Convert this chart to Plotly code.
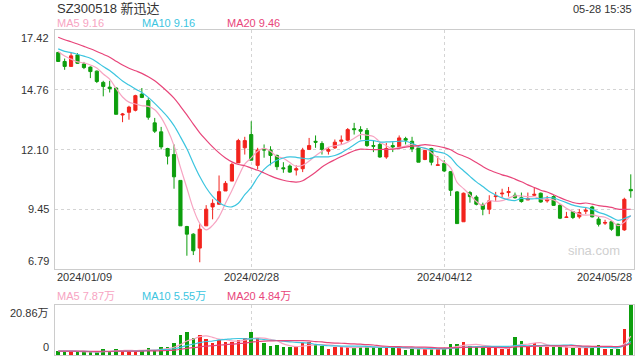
import plotly.graph_objects as go
import pandas as pd

# ---------------- data ----------------
open_ = [16.42, 16.02, 15.80, 16.31, 15.91, 15.77, 15.59, 15.09, 14.88, 14.84,
         13.64, 13.76, 13.85, 14.57, 14.28, 13.29, 12.89, 12.15, 11.88, 10.73,
         8.68, 8.34, 7.72, 8.71, 9.55, 9.67, 10.26, 10.70, 11.51, 12.18,
         12.77, 11.40, 12.13, 12.08, 11.84, 11.29, 11.37, 11.19, 11.25, 12.11,
         12.47, 12.37, 12.03, 12.18, 12.47, 12.52, 13.03, 12.99, 12.95, 12.28,
         12.33, 11.77, 12.28, 12.22, 12.59, 12.47, 12.18, 11.66, 12.15, 11.40,
         11.49, 11.12, 10.22, 8.89, 10.19, 9.99, 9.64, 9.45, 10.01, 10.13,
         10.19, 10.07, 9.96, 9.86, 10.07, 10.16, 9.82, 10.01, 9.62, 9.08,
         9.34, 9.11, 9.36, 9.55, 9.01, 8.83, 8.89, 8.78, 8.53, 10.33]
high = [16.45, 16.15, 16.42, 16.39, 16.00, 15.80, 15.62, 15.16, 15.16, 14.87,
        13.73, 14.05, 14.54, 14.84, 14.39, 13.51, 13.11, 12.18, 12.33, 10.73,
        8.71, 8.38, 8.78, 9.63, 9.89, 10.95, 10.70, 11.51, 12.58, 12.67,
        13.36, 12.18, 12.33, 12.25, 11.88, 11.54, 11.44, 11.40, 12.18, 12.62,
        12.73, 12.47, 12.22, 12.55, 12.73, 13.06, 13.29, 13.14, 13.06, 12.52,
        12.40, 12.40, 12.43, 12.73, 12.67, 12.67, 12.22, 12.10, 12.18, 11.81,
        11.63, 11.15, 10.26, 10.19, 10.26, 10.07, 9.74, 10.07, 10.22, 10.36,
        10.44, 10.19, 10.19, 10.19, 10.41, 10.19, 10.04, 10.07, 9.67, 9.33,
        9.37, 9.45, 9.55, 9.60, 9.11, 8.98, 8.89, 8.81, 9.96, 11.00]
low = [16.00, 15.65, 15.80, 15.91, 15.68, 15.28, 15.06, 14.47, 14.64, 13.67,
       13.32, 13.43, 13.80, 14.39, 13.43, 12.84, 12.11, 11.44, 10.36, 8.71,
       7.38, 7.41, 7.09, 8.71, 9.00, 9.67, 10.26, 10.70, 11.51, 11.88,
       11.63, 11.22, 11.74, 11.40, 11.19, 11.07, 11.07, 10.95, 11.10, 12.08,
       12.18, 11.88, 11.88, 12.13, 12.33, 12.47, 12.77, 12.55, 12.22, 11.99,
       11.74, 11.69, 11.99, 12.18, 12.33, 11.99, 11.54, 11.63, 11.40, 11.40,
       11.10, 10.04, 8.81, 8.89, 9.74, 9.62, 9.18, 9.23, 9.82, 9.97,
       10.01, 9.92, 9.74, 9.86, 10.04, 9.74, 9.74, 9.60, 9.01, 9.08,
       9.01, 9.03, 9.23, 9.08, 8.68, 8.75, 8.49, 8.27, 8.49, 9.96]
close = [16.02, 15.80, 16.27, 15.94, 15.75, 15.57, 15.13, 14.91, 14.81, 13.67,
         13.68, 13.99, 14.50, 14.42, 13.54, 12.92, 12.22, 11.81, 10.89, 8.71,
         8.34, 7.60, 8.56, 9.45, 9.71, 10.23, 10.60, 11.44, 12.50, 12.50,
         11.63, 12.08, 12.08, 11.84, 11.34, 11.25, 11.10, 11.25, 12.08, 12.28,
         12.43, 12.11, 12.11, 12.43, 12.52, 12.99, 12.99, 12.92, 12.28, 12.25,
         11.77, 12.15, 12.22, 12.62, 12.52, 12.13, 11.54, 12.06, 11.54, 11.42,
         11.15, 10.29, 8.81, 10.16, 10.01, 9.67, 9.45, 9.82, 10.04, 10.16,
         10.23, 9.96, 9.79, 9.92, 10.11, 9.77, 9.89, 9.62, 9.05, 9.10,
         9.08, 9.30, 9.40, 9.11, 8.78, 8.86, 8.56, 8.27, 9.89, 10.27]
# volume in 万 shares
volume = [1.7, 1.4, 1.7, 1.1, 1.1, 1.1, 1.1, 2.5, 1.4, 2.5,
          1.7, 1.8, 1.8, 2.1, 2.8, 2.1, 3.2, 3.2, 4.9, 8.3,
          9.7, 7.0, 8.3, 6.7, 5.1, 6.3, 5.6, 5.6, 6.3, 7.0,
          9.7, 7.0, 5.1, 3.75, 4.2, 3.2, 3.2, 3.2, 4.9, 5.6,
          4.2, 3.9, 2.4, 3.5, 3.2, 3.2, 3.2, 3.2, 3.75, 3.2,
          2.8, 3.2, 2.8, 3.2, 2.1, 2.4, 2.4, 2.4, 2.8, 2.8,
          2.4, 4.7, 4.7, 5.6, 3.9, 3.2, 2.8, 3.2, 2.8, 2.4,
          2.8, 7.5, 6.0, 3.75, 4.9, 3.5, 3.2, 3.2, 3.2, 3.2,
          3.2, 2.8, 3.2, 3.2, 4.2, 2.6, 2.6, 2.6, 10.8, 20.86]
# closes / volumes before the first visible day (estimated from the MA lines' start)
prior_close = [18.10, 18.05, 17.95, 17.80, 17.70, 17.55, 17.45, 17.35, 17.20, 17.05,
               16.90, 16.80, 16.70, 16.60, 16.50, 16.80, 16.95, 16.55, 15.98]
prior_volume = [1.5, 1.7, 1.6, 1.8, 1.5, 1.6, 1.9, 1.7, 1.6, 1.5,
                1.8, 1.6, 1.7, 1.5, 1.6, 1.8, 1.7, 1.6, 1.5]

x_tick_idx = [0, 30, 60, 89]
x_tick_labels = ["2024/01/09", "2024/02/28", "2024/04/12", "2024/05/28"]
price_ticks = [17.42, 14.76, 12.10, 9.45, 6.79]
price_tick_labels = ["17.42", "14.76", "12.10", "9.45", "6.79"]
vol_ticks = [20.86, 0]
vol_tick_labels = ["20.86万", "0"]
ma_periods = [5, 10, 20]
ma_price_labels = ["MA5 9.16", "MA10 9.16", "MA20 9.46"]
ma_vol_labels = ["MA5 7.87万", "MA10 5.55万", "MA20 4.84万"]
title_text = "SZ300518 新迅达"
time_text = "05-28 15:35"

# ---------------- styles ----------------
RED = "#f2231d"
GREEN = "#0d9e0d"
MA_COLORS = ["#f7a4c2", "#3cc5df", "#e8457a"]
FONT = "Liberation Sans, Arial, Noto Sans CJK SC, sans-serif"
W, H = 640, 360
L, R = 55, 634
MAIN_T, MAIN_B = 30, 269
VOL_T, VOL_B = 305, 355

def py(p):
    return 1 - p / H

n = len(close)
idx = list(range(n))
cs = pd.Series(prior_close + close)
vs = pd.Series(prior_volume + volume)
ma_p = [cs.rolling(p).mean().iloc[len(prior_close):].tolist() for p in ma_periods]
ma_v = [vs.rolling(p).mean().iloc[len(prior_volume):].tolist() for p in ma_periods]
vol_colors = [RED if c >= o else GREEN for o, c in zip(open_, close)]

fig = go.Figure()
fig.add_trace(go.Candlestick(
    x=idx, open=open_, high=high, low=low, close=close,
    increasing=dict(line=dict(color=RED, width=1), fillcolor=RED),
    decreasing=dict(line=dict(color=GREEN, width=1), fillcolor=GREEN),
    whiskerwidth=0, xaxis="x", yaxis="y", showlegend=False, hoverinfo="skip"))
for k in range(3):
    fig.add_trace(go.Scatter(x=idx, y=ma_p[k], mode="lines",
                             line=dict(color=MA_COLORS[k], width=1.2, shape="spline"),
                             xaxis="x", yaxis="y", showlegend=False, hoverinfo="skip"))
fig.add_trace(go.Bar(x=idx, y=volume, marker=dict(color=vol_colors, line=dict(width=0)),
                     width=0.55, xaxis="x2", yaxis="y2", showlegend=False, hoverinfo="skip"))
for k in range(3):
    fig.add_trace(go.Scatter(x=idx, y=ma_v[k], mode="lines",
                             line=dict(color=MA_COLORS[k], width=1.2, shape="spline"),
                             xaxis="x2", yaxis="y2", showlegend=False, hoverinfo="skip"))

axis_common = dict(showline=True, linecolor="#cccccc", linewidth=1, mirror=True,
                   zeroline=False, showticklabels=False, ticks="")
fig.update_layout(
    width=W, height=H, margin=dict(l=0, r=0, t=0, b=0),
    paper_bgcolor="white", plot_bgcolor="white",
    font=dict(family=FONT, size=11, color="#333333"),
    xaxis=dict(domain=[L / W, R / W], range=[-0.5, n - 0.5], rangeslider=dict(visible=False),
               tickvals=x_tick_idx[1:3], showgrid=True, gridcolor="#d4d4d4", griddash="dot",
               **axis_common),
    yaxis=dict(domain=[py(MAIN_B), py(MAIN_T)], range=[price_ticks[-1], price_ticks[0]],
               tickvals=price_ticks[1:4], showgrid=True, gridcolor="#d4d4d4", griddash="dot",
               **axis_common),
    xaxis2=dict(domain=[L / W, R / W], range=[-0.5, n - 0.5], anchor="y2",
                tickvals=x_tick_idx[1:3], showgrid=True, gridcolor="#d4d4d4", griddash="dot",
                **axis_common),
    yaxis2=dict(domain=[py(VOL_B), py(VOL_T)], range=[0, vol_ticks[0]], anchor="x2",
                showgrid=False, **axis_common),
    bargap=0,
)

ann = []
ann.append(dict(text=title_text, x=L / W, y=py(8), xanchor="left", yanchor="middle",
                font=dict(size=13, color="#333333")))
ann.append(dict(text=time_text, x=R / W, y=py(9), xanchor="right", yanchor="middle",
                font=dict(size=11, color="#333333")))
leg_x = [55, 140, 225]
for k in range(3):
    ann.append(dict(text=ma_price_labels[k], x=leg_x[k] / W, y=py(23.5), xanchor="left",
                    yanchor="middle", font=dict(size=11, color=MA_COLORS[k])))
    ann.append(dict(text=ma_vol_labels[k], x=leg_x[k] / W, y=py(296), xanchor="left",
                    yanchor="middle", font=dict(size=11, color=MA_COLORS[k])))
for j, (v, t) in enumerate(zip(price_ticks, price_tick_labels)):
    ya = "top" if j == 0 else ("bottom" if j == len(price_ticks) - 1 else "middle")
    ann.append(dict(text=t, x=51 / W, y=v, yref="y", xanchor="right", yanchor=ya,
                    font=dict(size=11, color="#333333")))
for j, (v, t) in enumerate(zip(vol_ticks, vol_tick_labels)):
    ya = "top" if j == 0 else "bottom"
    ann.append(dict(text=t, x=51 / W, y=v, yref="y2", xanchor="right", yanchor=ya,
                    font=dict(size=11, color="#333333")))
for j, (v, t) in enumerate(zip(x_tick_idx, x_tick_labels)):
    xa = "left" if j == 0 else ("right" if j == len(x_tick_idx) - 1 else "center")
    xv = L / W if j == 0 else (R / W if j == len(x_tick_idx) - 1 else None)
    d = dict(text=t, y=py(277), yanchor="middle", xanchor=xa, font=dict(size=11, color="#333333"))
    if xv is None:
        d.update(x=v, xref="x")
    else:
        d.update(x=xv)
    ann.append(d)
ann.append(dict(text="sina.com", x=622 / W, y=py(250), xanchor="right", yanchor="middle",
                font=dict(size=13, color="#d0d0d0")))
for a in ann:
    a.setdefault("xref", "paper")
    a.setdefault("yref", "paper")
    a["showarrow"] = False
fig.update_layout(annotations=ann)

fig.write_html("out.html", config={"displayModeBar": False},
               post_script="document.body.style.margin='0';document.body.style.overflow='hidden';")
